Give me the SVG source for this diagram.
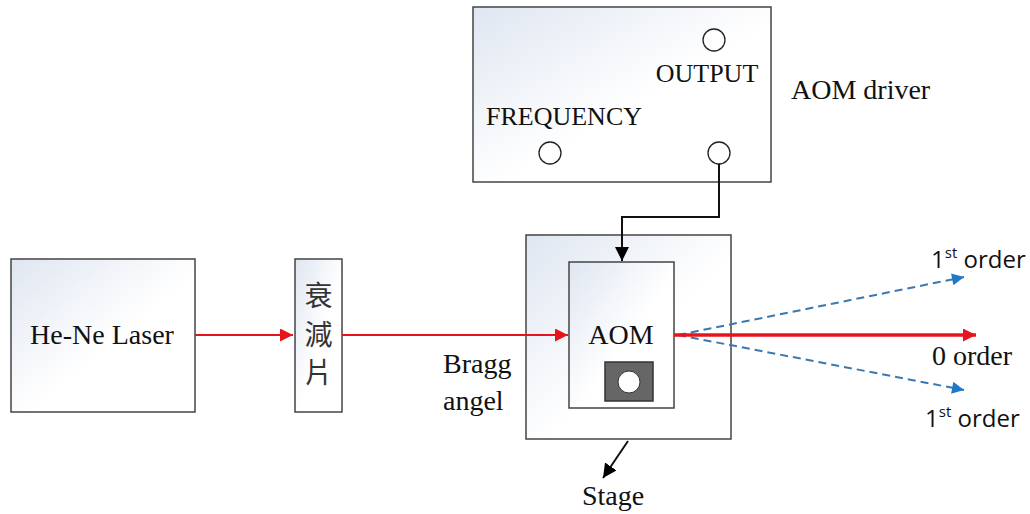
<svg xmlns="http://www.w3.org/2000/svg" width="1030" height="514" viewBox="0 0 1030 514">
<defs>
<linearGradient id="g" x1="0" y1="0" x2="1" y2="1">
<stop offset="0" stop-color="#dfe6f1"/>
<stop offset="0.55" stop-color="#ffffff"/>
<stop offset="1" stop-color="#ffffff"/>
</linearGradient>
<marker id="ar" viewBox="0 0 10 10" refX="10" refY="5" markerWidth="14" markerHeight="13" markerUnits="userSpaceOnUse" orient="auto">
<path d="M0,0 L10,5 L0,10 z" fill="#e8141c"/>
</marker>
<marker id="ab" viewBox="0 0 10 10" refX="10" refY="5" markerWidth="13" markerHeight="12" markerUnits="userSpaceOnUse" orient="auto">
<path d="M0,0 L10,5 L0,10 z" fill="#1f78c8"/>
</marker>
<marker id="ak" viewBox="0 0 10 10" refX="10" refY="5" markerWidth="14" markerHeight="14" markerUnits="userSpaceOnUse" orient="auto">
<path d="M0,0 L10,5 L0,10 z" fill="#000"/>
</marker>
</defs>
<style>
.box{fill:url(#g);stroke:#444;stroke-width:1.5}
.serif{font-family:"Liberation Serif","Times New Roman",serif;fill:#111;font-size:28px}
.sans{font-family:"Open Sans","Liberation Sans",sans-serif;fill:#111;font-size:24px}
.cjk{font-family:"Noto Sans CJK TC","Noto Sans CJK SC",sans-serif;fill:#333;font-size:28px}
.red{stroke:#e8141c;stroke-width:2;fill:none}
.blue{stroke:#3a78b0;stroke-width:2;stroke-dasharray:8,5;fill:none}
.blk{stroke:#111;stroke-width:2;fill:none}
.ring{fill:#fff;stroke:#222;stroke-width:1.3}
</style>

<g id="aom-driver">
<rect class="box" x="473" y="7" width="298" height="175"/>
<circle class="ring" cx="714" cy="40" r="11"/>
<text class="serif" x="707" y="82" style="font-size:26px" text-anchor="middle">OUTPUT</text>
<text class="serif" x="564" y="125" style="font-size:26px" text-anchor="middle">FREQUENCY</text>
<circle class="ring" cx="550" cy="153" r="11"/>
<circle class="ring" cx="719" cy="153" r="11"/>
</g>
<g id="aom-driver-label">
<text class="serif" x="791" y="99">AOM driver</text>
</g>

<g id="laser">
<rect class="box" x="11" y="259" width="184" height="153"/>
<text class="serif" x="102" y="344" text-anchor="middle">He-Ne Laser</text>
</g>

<g id="attenuator">
<rect class="box" x="295" y="259" width="47" height="153"/>
<text class="cjk" x="318.5" y="306" text-anchor="middle">衰</text>
<text class="cjk" x="318.5" y="345" text-anchor="middle">減</text>
<text class="cjk" x="318.5" y="383" text-anchor="middle">片</text>
</g>

<g id="stage">
<rect class="box" x="526" y="235" width="205" height="204"/>
</g>

<g id="aom">
<rect class="box" x="569" y="262" width="105" height="146"/>
<text class="serif" x="621" y="344" text-anchor="middle">AOM</text>
<rect x="605" y="362" width="48" height="39" fill="#666" stroke="#333" stroke-width="1.5"/>
<circle cx="629" cy="382" r="11" fill="#fff" stroke="#333" stroke-width="1"/>
</g>

<g id="labels">
<text class="serif" x="443" y="373">Bragg</text>
<text class="serif" x="443" y="410">angel</text>
<text class="sans" x="931" y="268">1<tspan style="font-size:15px" dy="-10">st</tspan><tspan dy="10"> order</tspan></text>
<text class="serif" x="932" y="365">0 order</text>
<text class="sans" x="925" y="427">1<tspan style="font-size:15px" dy="-10">st</tspan><tspan dy="10"> order</tspan></text>
<text class="serif" x="613" y="505" text-anchor="middle">Stage</text>
</g>

<g id="connectors">
<path class="blk" d="M719,164 V217 H622 V261" marker-end="url(#ak)"/>
<path class="red" d="M195,335 H293" marker-end="url(#ar)"/>
<path class="red" d="M342,335 H568" marker-end="url(#ar)"/>
<path class="blue" d="M678,335 L964,277" marker-end="url(#ab)"/>
<path class="blue" d="M678,335 L964,390" marker-end="url(#ab)"/>
<path stroke="#e8141c" stroke-width="3.5" fill="none" d="M674,335 H976" marker-end="url(#ar)"/>
<path class="blk" d="M628,441 L603,478" marker-end="url(#ak)"/>
</g>
</svg>
